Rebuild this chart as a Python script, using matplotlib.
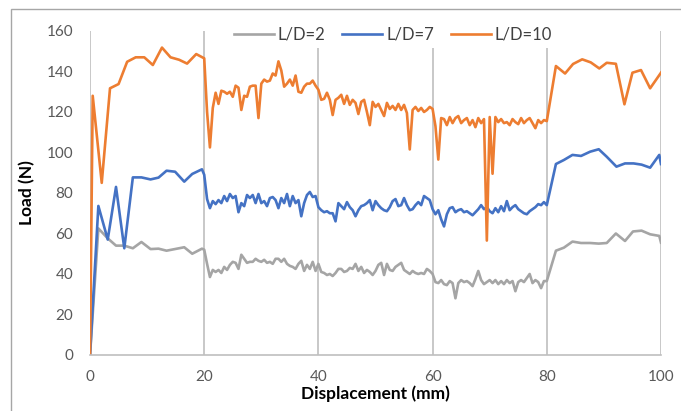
import numpy as np
import matplotlib
matplotlib.use("Agg")
import matplotlib.pyplot as plt
from matplotlib.patches import Rectangle

plt.rcParams['font.family'] = ['Lato', 'DejaVu Sans']

# ---- data ----
labels = ['L/D=2', 'L/D=7', 'L/D=10']
colors = ['#A5A5A5', '#4472C4', '#ED7D31']

# first part, 0-20 mm (sparse)
x_start_2 = [0, 1.46, 3.1, 4.55, 6, 7.5, 9, 10.6, 12, 13.4, 14.9, 16.5, 17.9, 19.6, 20]
y_start_2 = [0, 62.5, 57.6, 54, 54, 52.7, 55.8, 52.3, 52.5, 51.5, 52.3, 53.2, 50, 52.5, 52]
x_start_7 = [0, 1.46, 3.1, 4.55, 6, 7.5, 9, 10.6, 12, 13.4, 14.9, 16.5, 17.9, 19.6, 20]
y_start_7 = [0, 73.6, 57, 83, 52.7, 87.7, 87.7, 86.7, 87.6, 91, 90.5, 85.6, 89.4, 91.7, 89]
x_start_10 = [0, 0.47, 2.05, 3.5, 5, 6.5, 8, 9.5, 11, 12.6, 14.1, 15.6, 17, 18.6, 20]
y_start_10 = [0, 128, 85, 131.7, 133.8, 144.8, 147, 147, 143.2, 151.8, 147, 145.8, 143.9, 148.6, 146.5]

# middle part, 20.5-80 mm every 0.5 mm (dense)
x_mid = np.arange(20.5, 80.01, 0.5)
y_mid_2 = [
    45, 38.5, 42, 41, 42, 40.5, 43.5, 42, 44.5, 46, 45.5, 42.5, 49.5, 47.5, 45.5, 46, 46, 47.5, 46.5, 46,
    47, 45.5, 46, 45, 47.5, 47.5, 46, 47.5, 45, 44, 43.5, 42.5, 45, 46.5, 41.5, 44.5, 42.5, 46, 41.5, 45,
    41, 40.5, 39.5, 40, 39, 40.5, 42.5, 42.5, 41, 41.5, 43, 42.5, 45, 41.5, 43.5, 40.5, 42, 41, 39.5, 41.5,
    44.5, 45.5, 39.5, 45, 42, 41.5, 43.5, 44.5, 45.5, 42, 41, 40, 41.5, 40.5, 40, 40.5, 40, 42.5, 41.5, 40,
    36, 35.5, 37, 35, 34.5, 36.5, 35.5, 28, 35.5, 37, 36, 36.5, 35.5, 34, 37.5, 41.5, 37, 35, 36, 37,
    35.5, 37, 35, 36.5, 35, 37, 35.5, 36.5, 31.5, 36, 37, 36, 38, 40, 35.5, 37, 36, 33, 36.5, 36.5,
]
y_mid_7 = [
    77, 72.5, 76, 74.5, 76.5, 75, 78.5, 76, 79.5, 77.5, 78.5, 70.5, 75, 73.5, 79, 77.5, 79, 75, 79.5, 75,
    76, 73.5, 77.5, 78, 76.5, 72.5, 77.5, 75, 79.5, 73.5, 78.5, 75, 76.5, 68.5, 75, 79, 80.5, 78, 78.5, 73,
    71.5, 70.5, 71, 70, 70, 66, 75, 73.5, 72, 75.5, 73, 71.5, 68.5, 71.5, 73.5, 74, 75, 76.5, 71.5, 76,
    74, 72.5, 71.5, 71, 73, 76, 77, 73.5, 74, 77.5, 74, 71.5, 72, 74, 75.5, 74, 78.5, 77.5, 76.5, 72,
    69.5, 71.5, 67, 63.5, 69.5, 72.5, 73, 70.5, 71.5, 72, 70.5, 71, 70, 69, 70.5, 72, 74, 72, 73, 71,
    70, 72.5, 70.5, 73.5, 71, 76, 71.5, 73, 74, 72, 71, 70, 69.5, 71, 72, 73, 74.5, 74, 75.5, 74,
]
y_mid_10 = [
    120, 102.5, 122, 129.5, 124, 130.5, 130, 129, 130, 127.5, 133, 132, 121, 128, 127.5, 132.5, 133, 133, 117, 134,
    136, 135, 135.5, 139, 138, 145, 140.5, 132.5, 134, 136, 133, 138, 130, 129.5, 132.5, 134, 134, 135.5, 133, 131,
    126, 126.5, 129.5, 126, 118.5, 126, 127, 128.5, 124, 128, 123.5, 126, 124.5, 119, 125, 126, 120, 113.5, 125, 122.5,
    124, 121, 118, 124.5, 121.5, 123, 121, 124, 121, 123.5, 119.5, 101.5, 121, 122.5, 120.5, 122, 120, 121, 122.5, 121.5,
    113, 96.5, 117, 116.5, 113.5, 117.5, 114.5, 117, 118, 114.5, 116, 117, 113.5, 116, 112.5, 117, 114.5, 116.5, 56.5, 117.5,
    89.5, 117.5, 115, 116.5, 114.5, 115, 113.5, 116.5, 115, 114, 117, 114.5, 116, 117, 114.5, 112, 116, 114.5, 116, 115.5,
]

# last part, 80-100 mm (sparse)
x_end_2 = [81.6, 83, 84.5, 86, 87.6, 89.1, 90.5, 92.1, 93.7, 95.1, 96.6, 98.1, 99.7, 100]
y_end_2 = [51.5, 53, 56, 55.3, 55.3, 55, 55.3, 60, 56.3, 61, 61.4, 59.6, 58.8, 55.5]
x_end_7 = [81.6, 83, 84.5, 86, 87.6, 89.1, 90.5, 92.2, 93.7, 95.2, 96.6, 98.1, 99.7, 100]
y_end_7 = [94.3, 96.3, 98.8, 98.3, 100.4, 101.6, 97.9, 93, 94.6, 94.6, 94, 92.5, 98.8, 94.3]
x_end_10 = [81.6, 83.2, 84.6, 86.2, 87.7, 89.2, 90.5, 92.1, 93.6, 95, 96.5, 98.1, 100]
y_end_10 = [142.7, 139, 143.7, 146, 144.5, 141.5, 144.3, 143.8, 123.8, 139.4, 140.7, 131.7, 139.4]

series = [
    (x_start_2, y_start_2, y_mid_2, x_end_2, y_end_2),
    (x_start_7, y_start_7, y_mid_7, x_end_7, y_end_7),
    (x_start_10, y_start_10, y_mid_10, x_end_10, y_end_10),
]

# ---- figure ----
fig = plt.figure(figsize=(6.81, 4.11), dpi=100)
ax = fig.add_axes([0.1322, 0.1363, 0.8384, 0.7883])

# chart border (top and left visible in the reference)
fig.patches.append(Rectangle((11 / 681, -0.1), 1.2, 0.1 + (1 - 9 / 411), transform=fig.transFigure,
                             fill=False, edgecolor='#A6A6A6', linewidth=1.0, zorder=0))

for (xs, ys, ym, xe, ye), lab, col in zip(series, labels, colors):
    x = np.concatenate([xs, x_mid, xe])
    y = np.concatenate([ys, ym, ye])
    ax.plot(x, y, color=col, linewidth=1.9, label=lab, solid_joinstyle='round')

ax.set_xlim(0, 100)
ax.set_ylim(0, 160)
ax.set_xticks([0, 20, 40, 60, 80, 100])
ax.set_yticks(range(0, 161, 20))
ax.grid(axis='x', color='#BFBFBF', linewidth=1.2)
ax.set_axisbelow(True)
for s in ['top', 'right', 'left']:
    ax.spines[s].set_visible(False)
ax.spines['bottom'].set_color('#BFBFBF')
ax.spines['bottom'].set_linewidth(1.2)
ax.tick_params(length=0, labelsize=11, labelcolor='#595959')
ax.tick_params(axis='x', pad=11)
ax.tick_params(axis='y', pad=12)

ax.set_xlabel('Displacement (mm)', fontsize=12.5, fontweight='bold', labelpad=1)
ax.set_ylabel('Load (N)', fontsize=12.5, fontweight='bold', labelpad=8)

leg = ax.legend(loc='center', bbox_to_anchor=(393 / 681, 1 - 35 / 411), bbox_transform=fig.transFigure,
                ncol=3, frameon=True, fontsize=12, handlelength=2.4, handletextpad=0.25,
                columnspacing=1.0, borderpad=0.3)
leg.get_frame().set_edgecolor('none')
leg.get_frame().set_facecolor('white')
leg.get_frame().set_alpha(1)
for t in leg.get_texts():
    t.set_color('#404040')

fig.savefig('out.png', dpi=100)
